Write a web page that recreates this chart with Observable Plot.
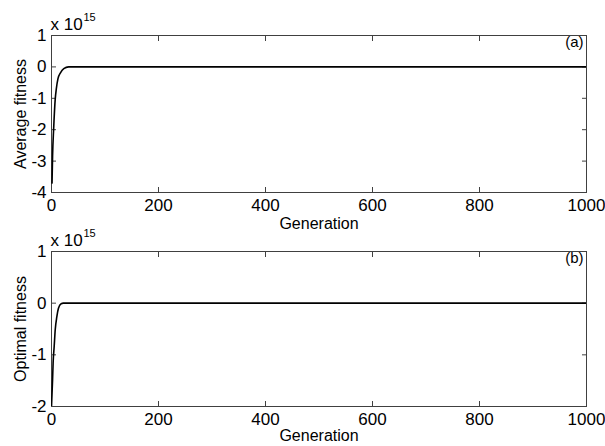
<!DOCTYPE html>
<html><head><meta charset="utf-8">
<script src="https://cdn.jsdelivr.net/npm/d3@7"></script>
<script src="https://cdn.jsdelivr.net/npm/@observablehq/plot@0.6"></script>
<style>
body{margin:0;background:#fff;}
#chart{width:605px;height:446px;overflow:hidden;}
#chart svg{display:block;}
</style>
</head><body><div id="chart"></div>
<script>
// Values are in units of 10^15
const generationsA = [1, 2, 4, 7, 9, 12, 17, 23, 32, 1000];
const averageFitness = [-3.7, -2.84, -1.98, -1.02, -0.70, -0.38, -0.18, -0.054, 0, 0];
const generationsB = [0, 2, 3, 5, 7, 10, 13, 18, 22, 1000];
const optimalFitness = [-2.0, -1.48, -1.16, -0.84, -0.51, -0.26, -0.10, -0.01, 0, 0];
const xTicks = [0, 200, 400, 600, 800, 1000];
const yTicksA = [1, 0, -1, -2, -3, -4];
const yTicksB = [1, 0, -1, -2];
const xLabel = "Generation";
const yLabelA = "Average fitness";
const yLabelB = "Optimal fitness";
const tagA = "(a)";
const tagB = "(b)";
const multiplier = "x 10";
const exponent = "15";

const FONT = "'Liberation Sans', Arial, Helvetica, sans-serif";
const AXC = "#404040";

function panel({gens, vals, yTicks, yLabel, tag, marginTop, marginBottom, genDy}) {
  const data = gens.map((g, i) => ({g, v: vals[i]}));
  const yDomain = [d3.min(yTicks), d3.max(yTicks)];
  const fmt = d => String(d);
  return Plot.plot({
    width: 605, height: 223,
    marginLeft: 51, marginRight: 19, marginTop, marginBottom,
    style: {fontFamily: FONT, fontSize: "17px", color: "#000", background: "#fff", overflow: "visible"},
    x: {domain: [0, 1000]},
    y: {domain: yDomain},
    marks: [
      Plot.frame({stroke: AXC}),
      // tick labels
      Plot.axisX({ticks: xTicks, anchor: "bottom", tickSize: 0, tickPadding: 6, tickFormat: fmt, label: null, fill: "#000"}),
      Plot.axisY({ticks: yTicks, anchor: "left", tickSize: 0, tickPadding: 5, tickFormat: fmt, label: null, fill: "#000"}),
      // inward tick marks on all four sides
      Plot.axisX({ticks: xTicks, anchor: "bottom", tickSize: -5, tickFormat: () => "", label: null, stroke: AXC}),
      Plot.axisX({ticks: xTicks, anchor: "top", tickSize: -5, tickFormat: () => "", label: null, stroke: AXC}),
      Plot.axisY({ticks: yTicks, anchor: "left", tickSize: -5, tickFormat: () => "", label: null, stroke: AXC}),
      Plot.axisY({ticks: yTicks, anchor: "right", tickSize: -5, tickFormat: () => "", label: null, stroke: AXC}),
      Plot.line(data, {x: "g", y: "v", stroke: "#000", strokeWidth: 1.6, curve: "monotone-x", clip: true}),
      Plot.text([xLabel], {frameAnchor: "bottom", lineAnchor: "top", dy: genDy, fontSize: 16, fill: "#000"}),
      Plot.text([yLabel], {frameAnchor: "left", rotate: -90, dx: -31, lineAnchor: "middle", textAnchor: "middle", fontSize: 16, fill: "#000"}),
      Plot.text([tag], {frameAnchor: "top-right", textAnchor: "end", lineAnchor: "top", dx: -3, dy: 1, fontSize: 15, fill: "#000"}),
      Plot.text([multiplier], {frameAnchor: "top-left", textAnchor: "start", lineAnchor: "middle", dx: -1, dy: -10.5, fontSize: 17, fill: "#000"}),
      Plot.text([exponent], {frameAnchor: "top-left", textAnchor: "start", lineAnchor: "middle", dx: 32, dy: -18.5, fontSize: 11, fill: "#000"})
    ]
  });
}

const chart = document.getElementById("chart");
chart.append(panel({gens: generationsA, vals: averageFitness, yTicks: yTicksA, yLabel: yLabelA, tag: tagA, marginTop: 35, marginBottom: 31, genDy: 25.6}));
chart.append(panel({gens: generationsB, vals: optimalFitness, yTicks: yTicksB, yLabel: yLabelB, tag: tagB, marginTop: 28, marginBottom: 40, genDy: 23.6}));
</script>
</body></html>
